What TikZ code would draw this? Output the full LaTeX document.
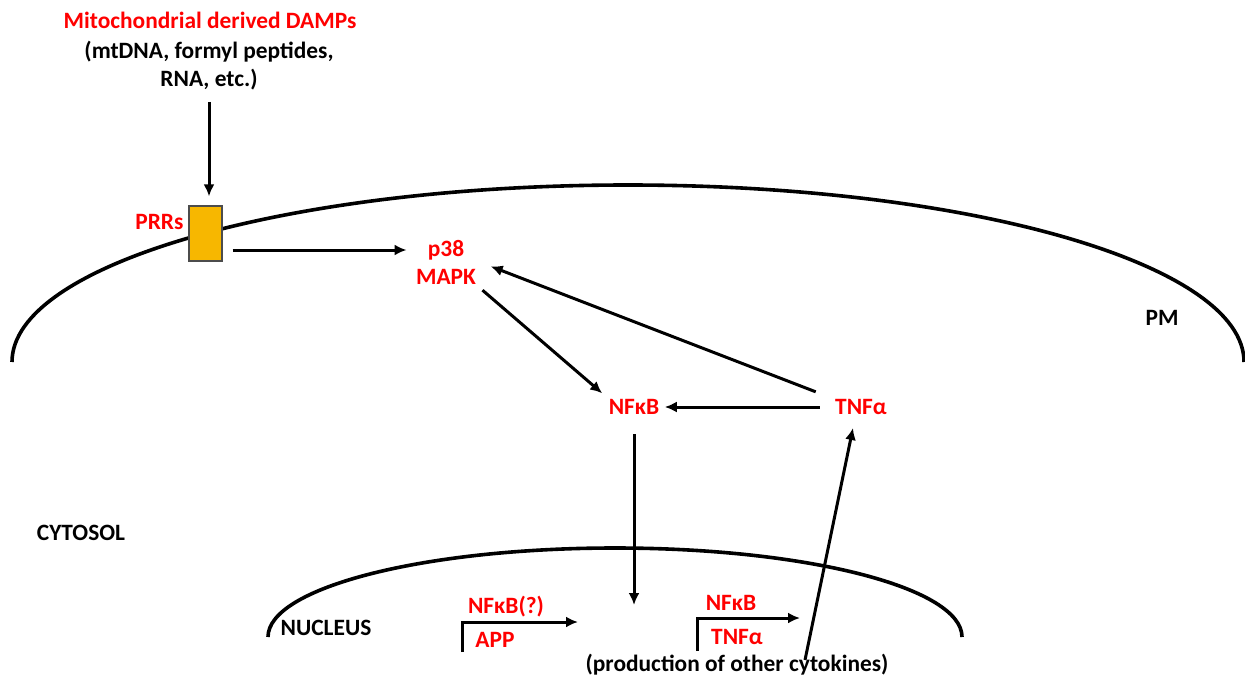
\documentclass[tikz,border=0pt]{standalone}
\usepackage{fontspec}
\setmainfont{Carlito}
\usetikzlibrary{arrows.meta}
\definecolor{prrorange}{RGB}{247,183,0}
\begin{document}
\begin{tikzpicture}[x=0.5pt, y=-0.5pt, line width=1.5pt,
        >={Latex[length=6pt, width=5.5pt]},
        every node/.style={font=\bfseries\fontsize{11.7}{14}\selectfont, inner sep=1pt},
        actor/.style={text=red}]
        \useasboundingbox (0,0) rectangle (1245,679);

        \draw[line width=1.8pt] (12,362) arc[start angle=180, end angle=360, x radius=616, y radius=177];
        \draw[line width=1.8pt] (268,637) arc[start angle=180, end angle=360, x radius=347, y radius=89];

        \node[actor] (damps) at (210,20) {Mitochondrial derived DAMPs};
        \node[align=center] (cargo) at (209,66) {(mtDNA, formyl peptides,\\RNA, etc.)};
        \node[draw=black!70, line width=0.6pt, fill=prrorange, minimum width=16.5pt,
            minimum height=27.5pt, inner sep=0pt] (prr) at (205.5,233.5) {};
        \node[actor, anchor=east] (prrs) at (187,222) {PRRs};
        \node[actor, align=center] (p38) at (446,262) {p38\\MAPK};
        \node[actor] (nfkb) at (634,407) {NFκB};
        \node[actor] (tnf) at (861,407) {TNFα};
        \node (cytosol) at (81,533) {CYTOSOL};
        \node (pm) at (1162,318) {PM};
        \node (nucleus) at (326,628) {NUCLEUS};

        \node[actor] (nfkbq) at (506,607) {NFκB(?)};
        \node[actor] (app) at (495,640) {APP};
        \node[actor] (nfkbg) at (731,603) {NFκB};
        \node[actor] (tnfg) at (737,637) {TNFα};
        \node (others) at (737,665) {(production of other cytokines)};

        \coordinate (appstart) at (462,652);
        \coordinate (append) at (578,622);
        \coordinate (tnfgstart) at (697,651);
        \coordinate (tnfgend) at (800,618);
        \coordinate (nfkbtarget) at (634,605);
        \coordinate (tnfsource) at (805,660);

        \draw[->, shorten <=4pt, shorten >=4.5pt] (cargo.south) -- (cargo.south |- prr.north);
        \draw[->, shorten >=3pt] ([shift={(10,16.5)}]prr.east) -- ([shift={(0,-12)}]p38.west);
        \draw[->, shorten <=2pt, shorten >=2pt] (p38.south east) -- (nfkb.north west);
        \draw[->, shorten >=6pt] ([shift={(-16,-4)}]tnf.north west) -- (p38.east);
        \draw[->, shorten <=6pt, shorten >=1pt] (tnf.west) -- (nfkb.east);
        \draw[->, shorten <=8pt] (nfkb.south -| nfkbtarget) -- (nfkbtarget);
        \draw[->, shorten >=5pt] (tnfsource) -- ([xshift=-3pt]tnf.south);
        \draw[->] (appstart) |- (append);
        \draw[->] (tnfgstart) |- (tnfgend);
\end{tikzpicture}
\end{document}
